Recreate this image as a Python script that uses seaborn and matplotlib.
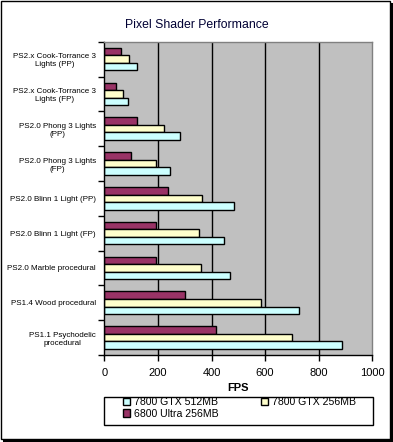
import matplotlib
matplotlib.use("Agg")
import matplotlib.pyplot as plt
import seaborn as sns
import numpy as np
import pandas as pd
from matplotlib.patches import Rectangle
from matplotlib.ticker import MultipleLocator

# data (top to bottom)
shaders = [
    "PS2.x Cook-Torrance 3\nLights (PP)",
    "PS2.x Cook-Torrance 3\nLights (FP)",
    "PS2.0 Phong 3 Lights\n(PP)",
    "PS2.0 Phong 3 Lights\n(FP)",
    "PS2.0 Blinn 1 Light (PP)",
    "PS2.0 Blinn 1 Light (FP)",
    "PS2.0 Marble procedural",
    "PS1.4 Wood procedural",
    "PS1.1 Psychodelic\nprocedural",
]
gtx512 = [121, 87, 281, 244, 483, 445, 468, 728, 886]
gtx256 = [93, 69, 222, 194, 363, 352, 360, 584, 699]
ultra6800 = [61, 42, 121, 98, 239, 192, 192, 302, 416]

cards = ["7800 GTX 512MB", "7800 GTX 256MB", "6800 Ultra 256MB"]
palette = {
    "7800 GTX 512MB": "#CCFFFF",
    "7800 GTX 256MB": "#FFFFCC",
    "6800 Ultra 256MB": "#993366",
}

df = pd.DataFrame({
    "shader": shaders * 3,
    "card": [cards[0]] * 9 + [cards[1]] * 9 + [cards[2]] * 9,
    "fps": gtx512 + gtx256 + ultra6800,
})

W, H = 393, 442
fig = plt.figure(figsize=(W / 100, H / 100), dpi=100)
fig.patch.set_facecolor("white")

# chart frame with drop shadow
fig.patches.append(Rectangle((3 / W, 0), 390 / W, 439 / H, transform=fig.transFigure,
                             facecolor="black", edgecolor="none", zorder=-2))
fig.patches.append(Rectangle((0.5 / W, 3 / H), 389 / W, 438.5 / H, transform=fig.transFigure,
                             facecolor="white", edgecolor="black", linewidth=1, zorder=-1))

ax = fig.add_axes([104.3 / W, 1 - 355 / H, 268 / W, (355 - 41.7) / H])
ax.set_facecolor("#C0C0C0")

sns.barplot(
    data=df, y="shader", x="fps", hue="card",
    hue_order=[cards[2], cards[1], cards[0]],
    order=shaders, palette=palette, orient="h",
    width=0.65, edgecolor="black", linewidth=1, ax=ax, legend=True,
    errorbar=None, saturation=1,
)

ax.set_xlim(0, 1000)
ax.set_ylim(len(shaders) - 0.5, -0.5)
ax.xaxis.set_major_locator(MultipleLocator(200))
for v in [200, 400, 600, 800]:
    ax.axvline(v, color="black", linewidth=1, zorder=0.5)
ax.set_axisbelow(True)

# y ticks: labels at group centres, marks at group boundaries
ax.set_yticks(np.arange(len(shaders)))
ax.set_yticklabels(shaders, fontsize=5.8, family="Liberation Sans", multialignment="center")
ax.set_yticks(np.arange(len(shaders) + 1) - 0.5, minor=True)
ax.tick_params(axis="y", which="major", length=0, pad=6)
ax.tick_params(axis="y", which="minor", length=4, width=1, color="black", direction="out")
ax.tick_params(axis="x", length=4, width=1, color="black", direction="out", pad=5)
for lab in ax.get_xticklabels():
    lab.set_fontsize(8)
    lab.set_family("Liberation Sans")

ax.set_xlabel("FPS", fontsize=8, fontweight="bold", family="Liberation Sans", labelpad=4)
ax.set_ylabel("")

ax.spines["left"].set_color("black")
ax.spines["bottom"].set_color("black")
ax.spines["top"].set_color("#808080")
ax.spines["right"].set_color("#808080")
for s in ax.spines.values():
    s.set_linewidth(1)

fig.text(0.5, 1 - 25 / H, "Pixel Shader Performance", ha="center", va="center",
         fontsize=8.8, family="Liberation Sans", color="#000033")

# legend: two columns, 512MB and 256MB in the first row
handles, labels = ax.get_legend_handles_labels()
lookup = dict(zip(labels, handles))
order = [cards[0], cards[2], cards[1]]
ax.get_legend().remove()
fig.patches.append(Rectangle((103.5 / W, 1 - 425 / H), 269.5 / W, 28 / H,
                             transform=fig.transFigure, facecolor="white",
                             edgecolor="black", linewidth=1, zorder=1))
leg = fig.legend(
    [lookup[c] for c in order], order, ncol=2,
    loc="upper left", bbox_to_anchor=(123 / W, 1 - 397 / H),
    frameon=False,
    prop={"family": "Liberation Sans", "size": 7.6},
    handlelength=0.7, handleheight=0.7, handletextpad=0.35,
    borderpad=0.0, labelspacing=0.15, columnspacing=4.0, borderaxespad=0,
)
leg.set_zorder(2)

fig.savefig("out.png", dpi=100)
